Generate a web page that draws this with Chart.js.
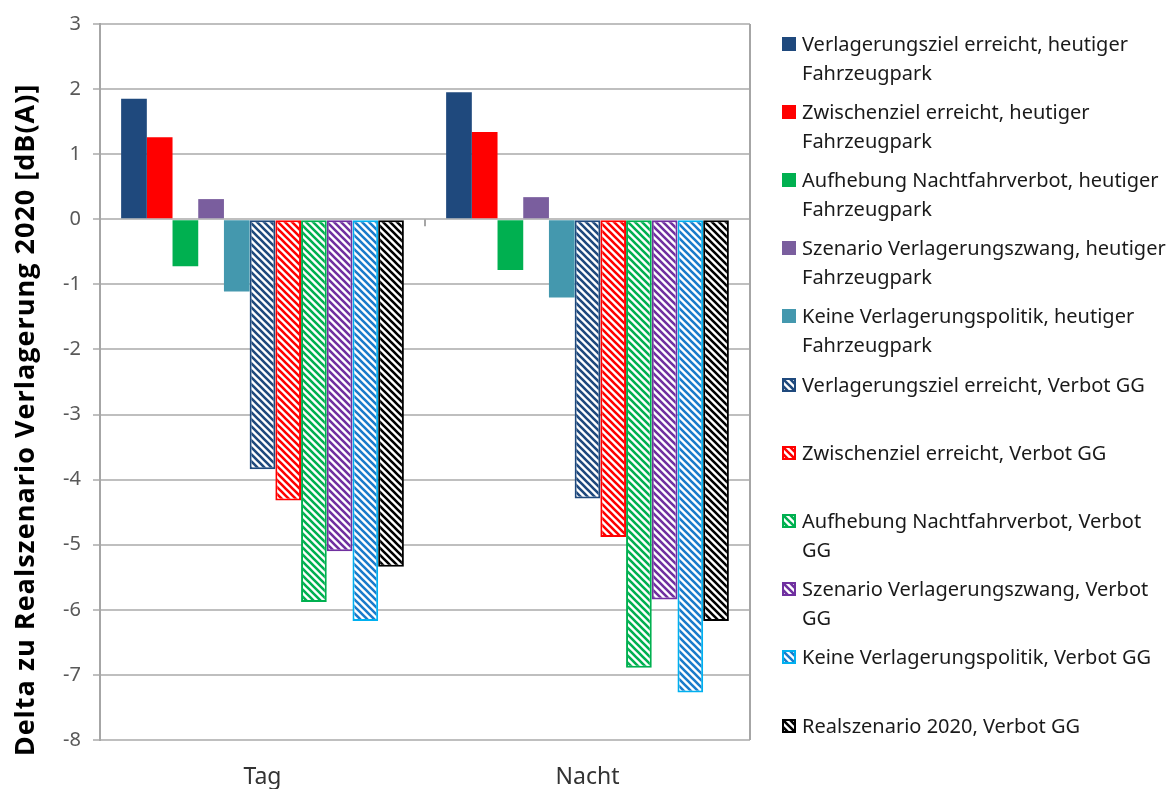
<!DOCTYPE html>
<html>
<head>
<meta charset="utf-8">
<script src="https://cdn.jsdelivr.net/npm/chart.js@4/dist/chart.umd.min.js"></script>
<style>
  html, body { margin: 0; padding: 0; background: #fff; }
  #wrap { position: relative; width: 1169px; height: 789px; overflow: hidden; }
  #chart { position: absolute; left: 0; top: 0; }
  #legend { position: absolute; left: 782px; top: 0; width: 387px; height: 789px;
            font-family: "Noto Sans", "Open Sans", sans-serif; font-size: 20px; color: #1a1a1a; }
  .item { position: absolute; left: 0; display: flex; align-items: flex-start; line-height: 29px; white-space: nowrap; }
  .item canvas { margin-top: 8px; margin-right: 6px; flex: none; }
</style>
</head>
<body>
<div id="wrap">
  <canvas id="chart" width="1169" height="789"></canvas>
  <div id="legend"></div>
</div>
<script>
// Categories and values (dB(A) difference to the 2020 reference scenario)
const categories = ['Tag', 'Nacht'];

const seriesLabels = [
  ['Verlagerungsziel erreicht, heutiger', 'Fahrzeugpark'],
  ['Zwischenziel erreicht, heutiger', 'Fahrzeugpark'],
  ['Aufhebung Nachtfahrverbot, heutiger', 'Fahrzeugpark'],
  ['Szenario Verlagerungszwang, heutiger', 'Fahrzeugpark'],
  ['Keine Verlagerungspolitik, heutiger', 'Fahrzeugpark'],
  ['Verlagerungsziel erreicht, Verbot GG'],
  ['Zwischenziel erreicht, Verbot GG'],
  ['Aufhebung Nachtfahrverbot, Verbot', 'GG'],
  ['Szenario Verlagerungszwang, Verbot', 'GG'],
  ['Keine Verlagerungspolitik, Verbot GG'],
  ['Realszenario 2020, Verbot GG']
];

const tagValues   = [1.85, 1.26, -0.72, 0.31, -1.11, -3.84, -4.32, -5.88, -5.10, -6.17, -5.34];
const nachtValues = [1.95, 1.34, -0.78, 0.34, -1.20, -4.29, -4.88, -6.89, -5.84, -7.27, -6.17];

const yMin = -8;
const yMax = 3;
const yStep = 1;
const yTitle = 'Delta zu Realszenario Verlagerung 2020 [dB(A)]';

// Styling per series
const fillColors = ['#1F497D', '#FF0000', '#00B050', '#7A5E9E', '#4498AE',
                    '#1F497D', '#FF0000', '#00B050', '#7030A0', '#1A7BCB', '#000000'];
const edgeColors = ['#1F497D', '#FF0000', '#00B050', '#7A5E9E', '#4498AE',
                    '#1F497D', '#FF0000', '#00B050', '#7030A0', '#00B0F0', '#000000'];
const hatched    = [false, false, false, false, false, true, true, true, true, true, true];

// Diagonal "\" stripe pattern tile
function stripeTile(color) {
  const s = 7;
  const c = document.createElement('canvas');
  c.width = s; c.height = s;
  const g = c.getContext('2d');
  g.fillStyle = '#ffffff';
  g.fillRect(0, 0, s, s);
  g.strokeStyle = color;
  g.lineWidth = 2.6;
  g.beginPath();
  g.moveTo(-2, -2); g.lineTo(s + 2, s + 2);
  g.moveTo(-2, s - 2); g.lineTo(2, s + 2);
  g.moveTo(s - 2, -2); g.lineTo(s + 2, 2);
  g.stroke();
  return c;
}
function stripePattern(ctx, color) {
  return ctx.createPattern(stripeTile(color), 'repeat');
}

const ctx = document.getElementById('chart').getContext('2d');

const datasets = seriesLabels.map((lines, i) => ({
  label: lines.join(' '),
  data: [tagValues[i], nachtValues[i]],
  backgroundColor: hatched[i] ? stripePattern(ctx, fillColors[i]) : fillColors[i],
  borderColor: edgeColors[i],
  borderWidth: hatched[i] ? 2 : 0,
  borderSkipped: false,
  categoryPercentage: 0.87,
  barPercentage: 1.0
}));

// Right frame line, category tick marks on the zero line, rotated axis title
const frameExtras = {
  id: 'frameExtras',
  afterDatasetsDraw(chart) {
    const { ctx, chartArea, scales } = chart;
    const y0 = scales.y.getPixelForValue(0);
    ctx.save();
    ctx.strokeStyle = '#A6A6A6';
    ctx.lineWidth = 2;
    ctx.beginPath();
    ctx.moveTo(chartArea.right, chartArea.top);
    ctx.lineTo(chartArea.right, chartArea.bottom);
    const n = chart.data.labels.length;
    const w = (chartArea.right - chartArea.left) / n;
    for (let k = 0; k <= n; k++) {
      const x = chartArea.left + k * w;
      ctx.moveTo(x, y0);
      ctx.lineTo(x, y0 + 7);
    }
    ctx.stroke();

    // axis title, centred a little below the plot middle
    const yc = scales.y.getPixelForValue((yMin + yMax) / 2) + 38;
    ctx.translate(34, yc);
    ctx.rotate(-Math.PI / 2);
    ctx.fillStyle = '#000000';
    ctx.font = 'bold 27px "Open Sans"';
    if ('letterSpacing' in ctx) ctx.letterSpacing = '1px';
    ctx.textAlign = 'center';
    ctx.textBaseline = 'alphabetic';
    ctx.fillText(yTitle, 0, 0);
    ctx.restore();
  }
};

const chart = new Chart(ctx, {
  type: 'bar',
  data: { labels: categories, datasets },
  options: {
    responsive: false,
    animation: false,
    devicePixelRatio: 1,
    layout: { padding: { top: 23, right: 419, left: 0, bottom: 0 } },
    plugins: { legend: { display: false }, tooltip: { enabled: false } },
    scales: {
      x: {
        grid: { display: false, drawTicks: false },
        border: { display: false },
        ticks: { color: '#333333', padding: 24, font: { family: 'Noto Sans', size: 23 } },
        afterFit(scale) { scale.height = 49; }
      },
      y: {
        min: yMin, max: yMax,
        ticks: { stepSize: yStep, color: '#595959', padding: 12, font: { family: 'Noto Sans', size: 20 } },
        grid: { color: '#BFBFBF', lineWidth: 2, tickLength: 7, drawTicks: true },
        border: { display: true, color: '#A6A6A6', width: 2 },
        title: { display: false },
        afterFit(scale) { scale.width = 100; }
      }
    }
  },
  plugins: [frameExtras]
});

// Legend built from the chart's datasets
const legend = document.getElementById('legend');
chart.data.datasets.forEach((ds, i) => {
  const item = document.createElement('div');
  item.className = 'item';
  item.style.top = (28.5 + i * 68.2) + 'px';
  const sw = document.createElement('canvas');
  sw.width = 14; sw.height = 14;
  const g = sw.getContext('2d');
  if (hatched[i]) {
    g.fillStyle = g.createPattern(stripeTile(fillColors[i]), 'repeat');
    g.fillRect(0, 0, 14, 14);
    g.strokeStyle = edgeColors[i];
    g.lineWidth = 2;
    g.strokeRect(1, 1, 12, 12);
  } else {
    g.fillStyle = fillColors[i];
    g.fillRect(0, 0, 14, 14);
  }
  const txt = document.createElement('div');
  txt.innerHTML = seriesLabels[i].map(s => s.replace(/&/g, '&amp;')).join('<br>');
  item.appendChild(sw);
  item.appendChild(txt);
  legend.appendChild(item);
});
</script>
</body>
</html>
